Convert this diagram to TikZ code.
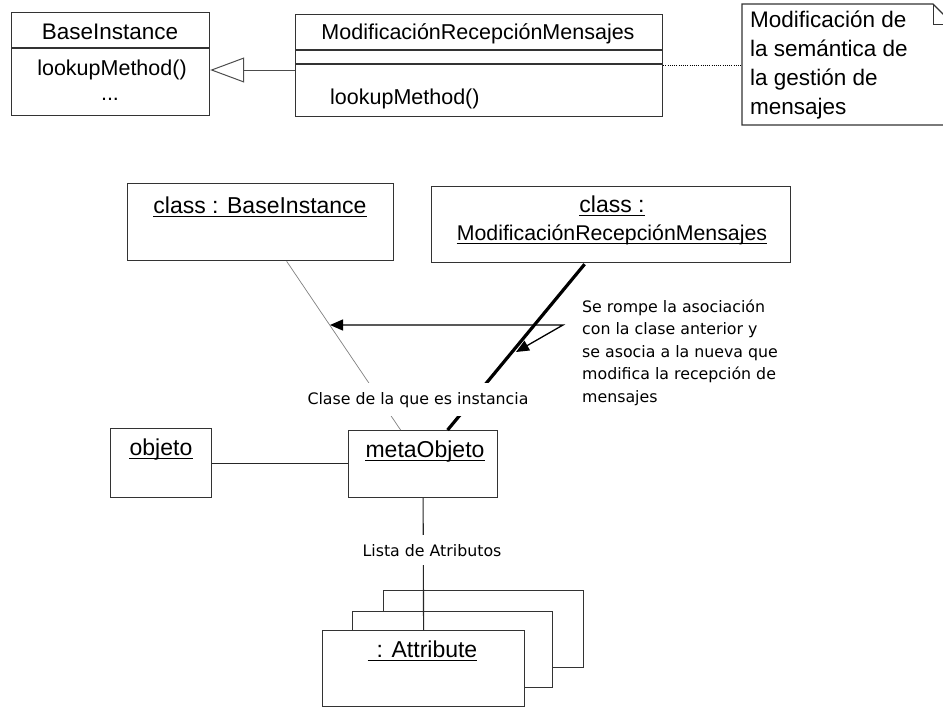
\documentclass[tikz,border=0pt]{standalone}
\usepackage{fontspec}
\setmainfont{Liberation Sans}
\newfontfamily\cmtfont{DejaVu Sans}
\usetikzlibrary{arrows.meta,calc}
\begin{document}
\begin{tikzpicture}[x=1pt,y=-1pt,
  box/.style={draw=black!80, line width=1.2pt, inner sep=0pt, anchor=north west, fill=white},
  divider/.style={draw=black!80, line width=1.2pt},
  toptxt/.style={font=\fontsize{21.5}{26}\selectfont, inner sep=0pt},
  lowtxt/.style={font=\fontsize{23}{27}\selectfont, inner sep=0pt},
  notetxt/.style={font=\fontsize{22.5}{27}\selectfont, inner sep=0pt, anchor=base west},
  cmt/.style={font=\cmtfont\fontsize{15.8}{22}\selectfont, inner sep=0pt},
  cmtgap/.style={font=\cmtfont\fontsize{15.8}{22}\selectfont, inner xsep=2pt, inner ysep=9pt, fill=white},
  ul/.style={line width=1.5pt, draw=black},
  thinline/.style={draw=black!50, line width=0.7pt},
  assoc/.style={draw=black!85, line width=1.1pt},
  heavy/.style={draw=black, line width=3.2pt},
]
\useasboundingbox (0,0) rectangle (943,707);

% ---------- top: class diagram ----------
\node[box, minimum width=198pt, minimum height=103pt] (base) at (11,12) {};
\draw[divider] ($(base.north west)+(0,36)$) -- ($(base.north east)+(0,36)$);
\node[toptxt, anchor=base, font=\fontsize{22.5}{26}\selectfont] (basename) at (110,39) {BaseInstance};
\node[toptxt, anchor=base] (basem) at (112,75) {lookupMethod()};
\node[toptxt, anchor=base] (based) at (110,100) {...};

\node[box, minimum width=367pt, minimum height=102pt] (modif) at (295,14) {};
\draw[divider] ($(modif.north west)+(0,36)$) -- ($(modif.north east)+(0,36)$);
\draw[divider] ($(modif.north west)+(0,50)$) -- ($(modif.north east)+(0,50)$);
\node[toptxt, anchor=base] (modifname) at (478,39) {ModificaciónRecepciónMensajes};
\node[toptxt, anchor=base west] (modifm) at (330,104) {lookupMethod()};

% generalization
\coordinate (genfrom) at ($(modif.north west)+(0,56)$);
\draw[draw=black!70, line width=1pt, -{Triangle[open, length=34pt, width=25pt, line width=1pt]}]
  (genfrom) -- (genfrom -| base.east);

% note
\draw[draw=black!80, line width=1.1pt, fill=white]
  (742,125) -- (742,4) -- (933,4) -- (953,24) -- (953,125) -- cycle;
\draw[draw=black!80, line width=1pt] (933,4) -- (933,24) -- (953,24);
\coordinate (notew) at (742,65);
\node[notetxt] (note1) at (750,27) {Modificación de};
\node[notetxt] (note2) at (750,56) {la semántica de};
\node[notetxt] (note3) at (750,85) {la gestión de};
\node[notetxt] (note4) at (750,114) {mensajes};
\draw[line width=0.9pt, dash pattern=on 1pt off 1.2pt] (modif.east |- notew) -- (notew);

% ---------- bottom: object diagram ----------
\node[box, minimum width=266pt, minimum height=77pt] (cbi) at (127,183) {};
\node[lowtxt, anchor=base] (cbit) at (260,213) {class : BaseInstance};

\node[box, minimum width=359pt, minimum height=76pt] (cmr) at (431,186) {};
\node[lowtxt, anchor=base] (cmrt1) at (612,212) {class :};
\node[lowtxt, anchor=base, font=\fontsize{21.3}{26}\selectfont] (cmrt2) at (612,240) {ModificaciónRecepciónMensajes};

\node[box, minimum width=101pt, minimum height=69pt] (obj) at (110,428) {};
\node[lowtxt, anchor=base] (objt) at (161,455) {objeto};

\node[box, minimum width=149pt, minimum height=67pt] (meta) at (348,430) {};
\node[lowtxt, anchor=base] (metat) at (425,457) {metaObjeto};

% attribute stack
\node[box, minimum width=200pt, minimum height=77pt] (attr3) at (383,590) {};
\node[box, minimum width=200pt, minimum height=76pt] (attr2) at (352,611) {};
\node[box, minimum width=202pt, minimum height=76pt] (attr) at (322,630) {};
\node[lowtxt, anchor=base] (attrt) at (427,657) {: Attribute};

% underlines
\foreach \n in {cbit, cmrt1, cmrt2, objt, metat}
  \draw[ul] ([yshift=-3.5pt]\n.base west) -- ([yshift=-3.5pt]\n.base east);
\draw[ul] ([yshift=-3.5pt, xshift=-9pt]attrt.base west) -- ([yshift=-3.5pt]attrt.base east);

% connectors
\draw[thinline] ([xshift=26pt]cbi.south) -- ([xshift=-22.5pt]meta.north);
\draw[heavy] ([xshift=-26.5pt, yshift=-1pt]cmr.south) -- ([xshift=24.5pt]meta.north);
\node[cmtgap, anchor=base] (clase) at (418,404) {Clase de la que es instancia};

\draw[assoc] (obj.east) -- (obj.east -| meta.west);
\draw[assoc] (meta.south) -- (attr.north);
\node[cmtgap, anchor=base] (lista) at (432,556) {Lista de Atributos};

% callout arrow
\coordinate (tipA) at (330,325);
\coordinate (elbow) at (563,325);
\coordinate (tipB) at (516,352);
\draw[draw=black, line width=1.3pt,
  {Triangle[length=13pt, width=11pt]}-{Triangle[length=13pt, width=11pt]}]
  (tipA) -- (elbow) -- (tipB);

\node[cmt, anchor=base west] (c1) at (582,312) {Se rompe la asociación};
\node[cmt, anchor=base west] (c2) at (582,334.5) {con la clase anterior y};
\node[cmt, anchor=base west] (c3) at (582,357) {se asocia a la nueva que};
\node[cmt, anchor=base west] (c4) at (582,379.5) {modifica la recepción de};
\node[cmt, anchor=base west] (c5) at (582,402) {mensajes};
\end{tikzpicture}
\end{document}
